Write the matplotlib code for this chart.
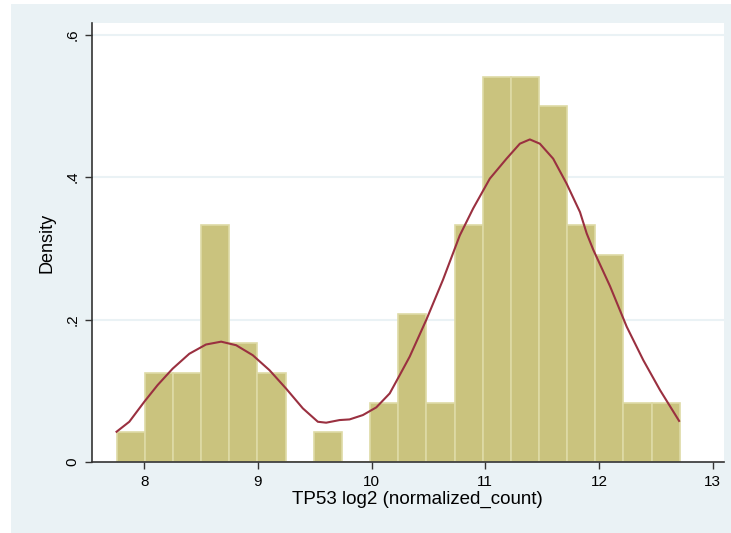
import numpy as np
import matplotlib.pyplot as plt
from matplotlib.patches import Rectangle

# histogram: 20 bins starting at the min value
bin_start = 7.757
bin_width = 0.2477
counts = [1, 3, 3, 8, 4, 3, 0, 1, 0, 2, 5, 2, 8, 13, 13, 12, 8, 7, 2, 2]
n_obs = 97

# kernel density curve
kde_x = [7.756, 7.868, 8.0, 8.117, 8.249, 8.396, 8.543, 8.676, 8.808, 8.954,
         9.101, 9.248, 9.395, 9.527, 9.6, 9.718, 9.806, 9.923, 10.041, 10.159,
         10.247, 10.335, 10.482, 10.628, 10.775, 10.893, 11.04, 11.187, 11.304,
         11.392, 11.48, 11.597, 11.715, 11.833, 11.892, 11.95, 12.097, 12.244,
         12.39, 12.537, 12.705]
kde_y = [0.0425, 0.0565, 0.0846, 0.108, 0.131, 0.152, 0.165, 0.169, 0.164, 0.150,
         0.129, 0.103, 0.0753, 0.0565, 0.0552, 0.0589, 0.0598, 0.0659, 0.0767, 0.0963,
         0.122, 0.148, 0.200, 0.256, 0.318, 0.356, 0.398, 0.426, 0.447,
         0.453, 0.447, 0.426, 0.391, 0.351, 0.321, 0.298, 0.247, 0.190,
         0.143, 0.101, 0.0577]

xticks = [8, 9, 10, 11, 12, 13]
yticks = [0, 0.2, 0.4, 0.6]
ytick_labels = ['0', '.2', '.4', '.6']

plt.rcParams['font.family'] = ['Liberation Sans', 'DejaVu Sans']

fig = plt.figure(figsize=(7.31, 5.33), dpi=100)
fig.patch.set_facecolor('white')
bg = '#EAF2F5'
fig.patches.append(Rectangle((11 / 731, 0), 1 - 11 / 731, 1 - 4 / 533,
                             transform=fig.transFigure, facecolor=bg,
                             edgecolor='none', zorder=-10))

ax = fig.add_axes([92 / 731, (533 - 462) / 533, (724 - 92) / 731, (462 - 23) / 533])
ax.set_facecolor('white')

edges = bin_start + bin_width * np.arange(len(counts))
dens = np.array(counts) / (n_obs * bin_width)
ax.bar(edges, dens, width=bin_width, align='edge', color='#CAC37E',
       edgecolor='#DEDAA6', linewidth=1.2, zorder=2)
ax.plot(kde_x, kde_y, color='#9A3040', linewidth=1.5, zorder=3,
        solid_joinstyle='round')

for y in yticks[1:]:
    ax.axhline(y, color='#EAF2F5', linewidth=1.5, zorder=1)

ax.set_xlim(7.54, 13.1)
ax.set_ylim(0, 0.6165)
ax.set_xticks(xticks)
ax.set_yticks(yticks)
ax.set_yticklabels(ytick_labels, rotation=90, va='center')
ax.tick_params(axis='both', direction='out', length=5, width=1,
               labelsize=11, color='#333333', pad=4)
for s in ['top', 'right']:
    ax.spines[s].set_visible(False)
for s in ['left', 'bottom']:
    ax.spines[s].set_color('#333333')
    ax.spines[s].set_linewidth(1.2)

ax.set_xlabel('TP53 log2 (normalized_count)', fontsize=13.5, labelpad=2, x=0.515)
ax.set_ylabel('Density', fontsize=13, labelpad=7)

fig.savefig('out.png', dpi=100)
